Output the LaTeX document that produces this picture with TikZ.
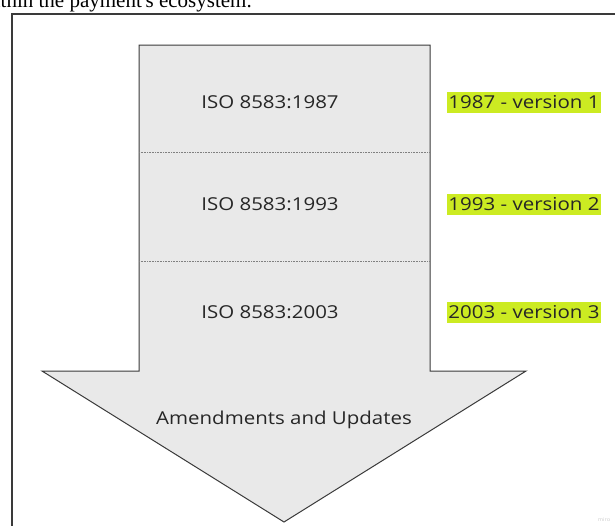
\documentclass[tikz,border=0pt]{standalone}
\usepackage{fontspec}
\setmainfont{Open Sans}[FakeStretch=1.15]
\newfontfamily\pagefont{Liberation Serif}
\definecolor{hilite}{HTML}{CCEB22}
\definecolor{arrowgray}{HTML}{E9E9E9}
\definecolor{edgegray}{HTML}{3A3A3A}
\definecolor{txtgray}{HTML}{262626}
\tikzset{isotext/.style={text=txtgray,font=\fontsize{17.8}{21}\selectfont},
  vertext/.style={isotext,fill=hilite,inner xsep=1.5pt,inner ysep=0pt,minimum height=21pt}}
\begin{document}
\begin{tikzpicture}[x=1pt,y=-1pt]
\useasboundingbox (0,0) rectangle (615,525);
\clip (0,0) rectangle (615,525);
\node[anchor=base east,inner sep=0pt,font=\pagefont\fontsize{21}{24}\selectfont] (page) at (252,7) {within the payment's ecosystem.};
\draw[edgegray,line width=1.2pt] (12,530)--(12,14)--(620,14);
% arrow body
\draw[edgegray,fill=arrowgray,line width=1pt] (139,45)--(430,45)--(430,371)--(526,371)--(284,522)--(42,371)--(139,371)--cycle;
\foreach \y in {152,261}{\draw[densely dotted,gray,line width=.6pt] (139,\y)--(430,\y);}
\foreach \n/\y/\yr/\v in {a/102/1987/1,b/204/1993/2,c/312/2003/3}{
  \node[isotext] (iso\n) at (270,\y) {ISO 8583:\yr};
  \node[vertext] (ver\n) at (524,\y) {\yr{} - version \v};}
\node[isotext] (amend) at (284,420) {Amendments and Updates};
\node[font=\fontsize{5}{6}\selectfont,text=gray!40] (miro) at (604,520) {miro};
\end{tikzpicture}
\end{document}
